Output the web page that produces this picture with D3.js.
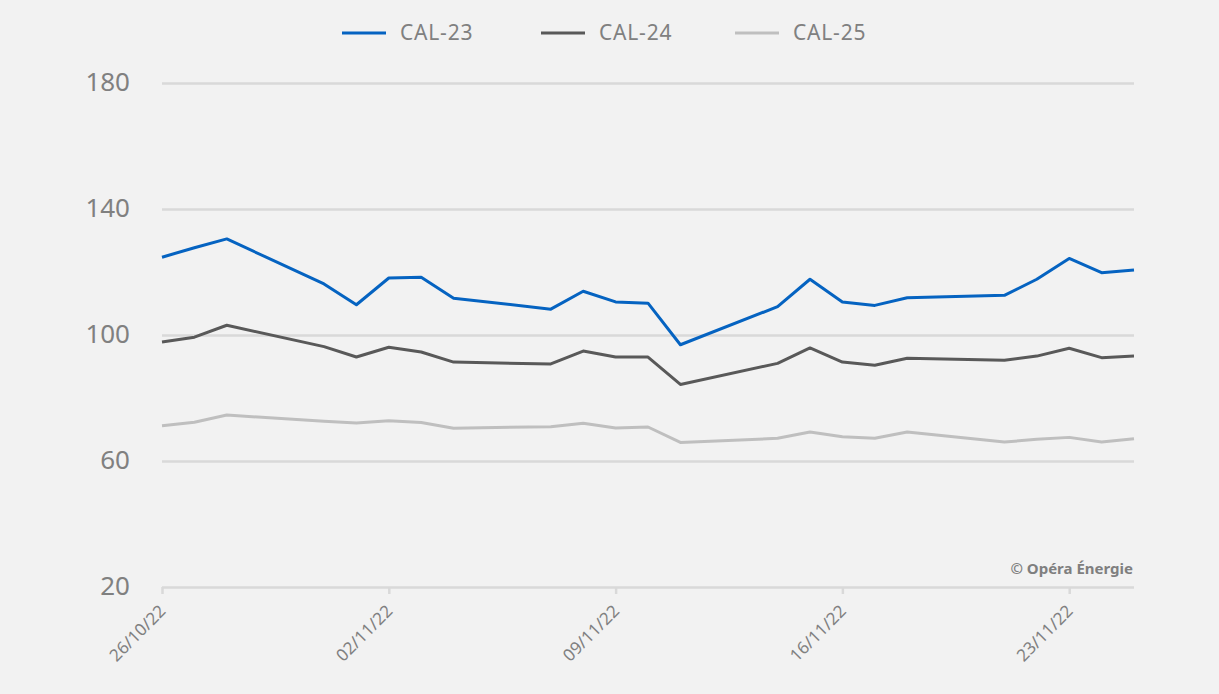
<!DOCTYPE html>
<html>
<head>
<meta charset="utf-8">
<script src="https://cdn.jsdelivr.net/npm/d3@7"></script>
<style>
  body { margin: 0; background: #f2f2f2; }
  svg { display: block; }
  svg text { font-family: "Noto Sans", sans-serif; }
</style>
</head>
<body>
<svg id="chart"></svg>
<script>
// trading days (weekends skipped)
const dates = ['2022-10-26','2022-10-27','2022-10-28','2022-10-31','2022-11-01','2022-11-02','2022-11-03','2022-11-04',
  '2022-11-07','2022-11-08','2022-11-09','2022-11-10','2022-11-11','2022-11-14','2022-11-15','2022-11-16',
  '2022-11-17','2022-11-18','2022-11-21','2022-11-22','2022-11-23','2022-11-24','2022-11-25'];
const cal23 = [124.7,127.7,130.5,116.2,109.6,118.1,118.3,111.7,108.2,113.9,110.5,110.1,96.9,109.0,117.7,110.5,109.4,111.8,112.6,117.7,124.3,119.8,120.6];
const cal24 = [97.8,99.3,103.1,96.3,93.0,96.1,94.6,91.4,90.8,94.9,93.0,93.0,84.3,91.0,95.9,91.4,90.4,92.6,92.0,93.3,95.8,92.8,93.3];
const cal25 = [71.2,72.3,74.6,72.6,72.1,72.8,72.2,70.4,70.9,72.0,70.5,70.8,65.9,67.2,69.2,67.7,67.2,69.2,66.0,66.9,67.5,66.0,67.1];
const seriesNames = ['CAL-23','CAL-24','CAL-25'];
const seriesColors = ['#0563c1','#595959','#bfbfbf'];
const yTicks = [20,60,100,140,180];
const xTickDates = ['2022-10-26','2022-11-02','2022-11-09','2022-11-16','2022-11-23'];

const width = 1219, height = 694;
const margin = { top: 83, right: 85, bottom: 107, left: 162 };
const chartWidth = width - margin.left - margin.right;
const chartHeight = height - margin.top - margin.bottom;

const parse = d3.timeParse('%Y-%m-%d');
const days = dates.map(parse);

const xScale = d3.scaleTime().domain(d3.extent(days)).range([0, chartWidth]);
const yScale = d3.scaleLinear().domain([20, 180]).range([chartHeight, 0]);

const svg = d3.select('#chart').attr('width', width).attr('height', height);
svg.append('rect').attr('width', width).attr('height', height).attr('fill', '#f2f2f2');

const g = svg.append('g').attr('transform', `translate(${margin.left}, ${margin.top})`);

// gridlines + y labels
const yAxis = g.append('g')
  .call(d3.axisLeft(yScale).tickValues(yTicks).tickSize(-chartWidth).tickPadding(32));
yAxis.select('.domain').remove();
yAxis.selectAll('line').attr('stroke', '#d9d9d9').attr('stroke-width', 2.5);
yAxis.selectAll('text')
  .attr('fill', '#808080')
  .style('font-size', '26px')
  .attr('dy', '0.3em');

// x axis
const xAxisGroup = g.append('g').attr('transform', `translate(0, ${chartHeight})`);
xAxisGroup.call(d3.axisBottom(xScale).tickValues(xTickDates.map(parse)).tickFormat(d3.timeFormat('%d/%m/%y')).tickSize(7));
xAxisGroup.select('.domain').remove();
xAxisGroup.selectAll('line').attr('stroke', '#d9d9d9').attr('stroke-width', 2.5);
xAxisGroup.selectAll('text')
  .attr('fill', '#808080')
  .style('font-size', '17px')
  .attr('x', 0).attr('y', 0).attr('dy', '0.35em')
  .attr('transform', 'translate(0, 21) rotate(-45)')
  .style('text-anchor', 'end');

// lines
const allSeries = [cal23, cal24, cal25];
const line = d3.line().x((d, i) => xScale(days[i])).y(d => yScale(d));
allSeries.slice().reverse().forEach((vals, k) => {
  const idx = allSeries.length - 1 - k;
  g.append('path')
    .datum(vals)
    .attr('d', line)
    .attr('fill', 'none')
    .attr('stroke', seriesColors[idx])
    .attr('stroke-width', 3)
    .attr('stroke-linejoin', 'round');
});

// legend
const legendX = [342, 541, 735];
seriesNames.forEach((name, i) => {
  const lg = svg.append('g').attr('transform', `translate(${legendX[i]}, 33)`);
  lg.append('line').attr('x1', 0).attr('x2', 44).attr('y1', 0).attr('y2', 0)
    .attr('stroke', seriesColors[i]).attr('stroke-width', 3);
  lg.append('text').attr('x', 58).attr('y', 0).attr('dy', '0.35em')
    .attr('fill', '#808080').style('font-size', '21px').style('letter-spacing', '0.8px')
    .text(name);
});

// credit
svg.append('text')
  .attr('x', 1133).attr('y', 574)
  .attr('text-anchor', 'end')
  .attr('fill', '#7f7f7f')
  .style('font-size', '15px').style('font-weight', 'bold')
  .text('© Opéra Énergie');
</script>
</body>
</html>
